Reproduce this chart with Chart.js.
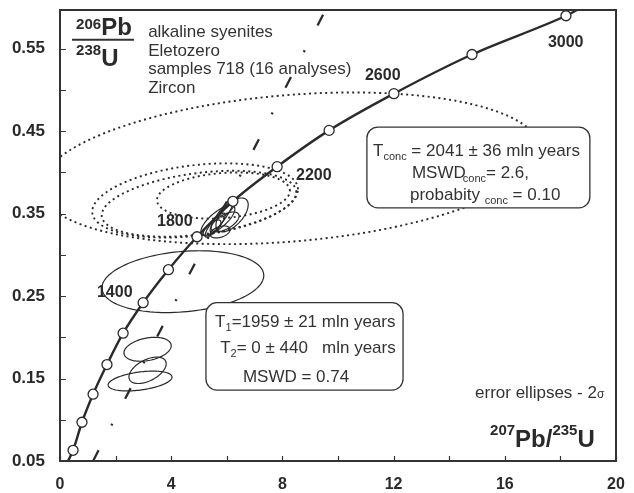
<!DOCTYPE html>
<html>
<head>
<meta charset="utf-8">
<script src="https://cdn.jsdelivr.net/npm/chart.js@4.4.1/dist/chart.umd.min.js"></script>
<style>
  html, body { margin: 0; padding: 0; background: #fff; }
  canvas { display: block; }
</style>
</head>
<body>
<canvas id="chart" width="634" height="493"></canvas>
<script>
// Concordia curve (null age = curve end, no marker)
const concordiaAges = [null, 400, 600, 800, 1000, 1200, 1400, 1600, 1800, 2000, 2200, 2400, 2600, 2800, 3000, null];
const concordiaX = [0.29, 0.47, 0.79, 1.19, 1.69, 2.27, 2.99, 3.90, 4.93, 6.22, 7.81, 9.68, 12.01, 14.82, 18.20, 18.60];
const concordiaY = [0.050, 0.063, 0.097, 0.131, 0.167, 0.205, 0.242, 0.282, 0.322, 0.365, 0.407, 0.451, 0.4955, 0.543, 0.590, 0.597];

// discordia (dash-dot line) end points
const discordiaX = [1.19, 9.55];
const discordiaY = [0.05, 0.597];

// error ellipses: centre, half-width (x), half-height (y), correlation, dotted?
const ellCX  = [8.27, 4.86, 5.00, 5.88, 4.42, 3.15, 3.15, 2.88, 6.19, 5.68, 5.83, 5.58, 5.94, 5.47, 6.04, 5.76];
const ellCY  = [0.405, 0.366, 0.362, 0.372, 0.2675, 0.1855, 0.160, 0.147, 0.3485, 0.342, 0.348, 0.336, 0.340, 0.3326, 0.357, 0.3278];
const ellSX  = [8.99, 3.70, 3.50, 2.39, 2.91, 0.85, 0.67, 1.15, 0.58, 0.61, 0.43, 0.36, 0.50, 0.32, 0.29, 0.36];
const ellSY  = [0.092, 0.045, 0.040, 0.028, 0.0375, 0.0145, 0.016, 0.012, 0.0205, 0.018, 0.0206, 0.0146, 0.012, 0.0097, 0.011, 0.0073];
const ellRho = [0.25, 0.30, 0.35, 0.20, 0.20, 0.30, 0.50, 0.40, 0.60, 0.75, 0.90, 0.85, 0.60, 0.70, 0.80, 0.40];
const ellDotted = [true, true, true, true, false, false, false, false, false, false, false, false, false, false, false, false];

// axis ticks
const xTicks = [0, 2, 4, 6, 8, 10, 12, 14, 16, 18, 20];
const xTickLabels = [0, 4, 8, 12, 16, 20];
const yTicks = [0.05, 0.10, 0.15, 0.20, 0.25, 0.30, 0.35, 0.40, 0.45, 0.50, 0.55];
const yTickLabels = [0.05, 0.15, 0.25, 0.35, 0.45, 0.55];

const FONT = "'Liberation Sans', Arial, sans-serif";
const INK = '#2a2a2a';
const TEXT = '#333';

// text annotations, anchored in data units: [x, y, parts, bold]
// parts: [text, size, dy]
const notes = [
    [0.58, 0.567, [['206', 15, -6], ['Pb', 24]], true],
    [0.58, 0.529, [['238', 15, -11], ['U', 24]], true],
    [3.17, 0.564, [['alkaline syenites', 17]]],
    [3.17, 0.541, [['Eletozero', 17]]],
    [3.17, 0.519, [['samples 718 (16 analyses)', 17]]],
    [3.17, 0.496, [['Zircon', 17]]],
    [1.33, 0.249, [['1400', 16]], true],
    [3.49, 0.335, [['1800', 16]], true],
    [8.49, 0.391, [['2200', 16]], true],
    [10.97, 0.512, [['2600', 16]], true],
    [17.55, 0.552, [['3000', 16]], true],
    [14.93, 0.126, [['error ellipses - 2', 17], ['σ', 12]]],
    [15.47, 0.067, [['207', 15, -12], ['Pb/', 24], ['235', 15, -12], ['U', 24]], true]
];

// result boxes: [x0, y0, x1, y1, lines]; lines: [x, y, parts]
const boxes = [
    [11.04, 0.455, 19.06, 0.357, [
        [11.26, 0.420, [['T', 17], ['conc', 11, 4], [' = 2041 ± 36 mln years', 17]]],
        [12.66, 0.393, [['MSWD', 17], ['conc', 11, 4, -3], ['= 2.6,', 17]]],
        [12.59, 0.367, [['probabity ', 17], ['conc', 11, 4], [' = 0.10', 17]]]
    ]],
    [5.25, 0.242, 12.34, 0.136, [
        [5.58, 0.2125, [['T', 17], ['1', 11, 4], ['=1959 ± 21 mln years', 17]]],
        [5.76, 0.181, [['T', 17], ['2', 11, 4], ['= 0 ± 440   mln years', 17]]],
        [6.58, 0.146, [['MSWD = 0.74', 17]]]
    ]]
];

function richText (ctx, x, y, parts, bold) {
    ctx.textBaseline = 'alphabetic';
    ctx.textAlign = 'left';
    for (const [t, size, dy = 0, dx = 0] of parts) {
        ctx.font = (bold ? 'bold ' : '') + size + 'px ' + FONT;
        ctx.fillText(t, x + dx, y + dy);
        x += dx + ctx.measureText(t).width;
    }
}

function ellipsePath (ctx, xs, ys, i) {
    const r = ellRho[i];
    const k = Math.sqrt(1 - r * r);
    ctx.beginPath();
    for (let s = 0; s <= 120; s++) {
        const t = s / 120 * 2 * Math.PI;
        const px = xs.getPixelForValue(ellCX[i] + ellSX[i] * Math.cos(t));
        const py = ys.getPixelForValue(ellCY[i] + ellSY[i] * (r * Math.cos(t) + k * Math.sin(t)));
        if (s) ctx.lineTo(px, py); else ctx.moveTo(px, py);
    }
    ctx.closePath();
}

const concordiaPlugin = {
    id: 'concordia',
    beforeDatasetsDraw (chart) {
        const { ctx, chartArea: a, scales: { x, y } } = chart;
        ctx.save();
        ctx.beginPath();
        ctx.rect(a.left, a.top, a.right - a.left, a.bottom - a.top);
        ctx.clip();
        ctx.strokeStyle = INK;
        ellCX.forEach(function (cx, i) {
            ellipsePath(ctx, x, y, i);
            if (ellDotted[i]) {
                ctx.setLineDash([2, 3.4]);
                ctx.lineWidth = 1.9;
            } else {
                ctx.setLineDash([]);
                ctx.lineWidth = 1.2;
            }
            ctx.stroke();
        });
        ctx.restore();
    },
    afterDatasetsDraw (chart) {
        const { ctx, chartArea: a, scales: { x, y } } = chart;
        ctx.save();

        // frame and inward ticks
        ctx.strokeStyle = '#333';
        ctx.lineWidth = 2;
        ctx.strokeRect(a.left, a.top, a.right - a.left, a.bottom - a.top);
        ctx.lineWidth = 1.2;
        ctx.beginPath();
        xTicks.forEach(function (v) {
            const px = Math.round(x.getPixelForValue(v)) + 0.5;
            ctx.moveTo(px, a.bottom);
            ctx.lineTo(px, a.bottom - 5);
        });
        yTicks.forEach(function (v) {
            const py = Math.round(y.getPixelForValue(v)) + 0.5;
            ctx.moveTo(a.left, py);
            ctx.lineTo(a.left + 6, py);
        });
        ctx.stroke();

        // fraction bar of the y title
        ctx.lineWidth = 2;
        ctx.beginPath();
        ctx.moveTo(x.getPixelForValue(0.43), y.getPixelForValue(0.561));
        ctx.lineTo(x.getPixelForValue(2.66), y.getPixelForValue(0.561));
        ctx.stroke();

        // result boxes
        boxes.forEach(function ([x0, y0, x1, y1, lines]) {
            const bx = x.getPixelForValue(x0);
            const by = y.getPixelForValue(y0);
            ctx.beginPath();
            ctx.roundRect(bx, by, x.getPixelForValue(x1) - bx, y.getPixelForValue(y1) - by, 11);
            ctx.fillStyle = '#fff';
            ctx.fill();
            ctx.lineWidth = 1.3;
            ctx.strokeStyle = '#333';
            ctx.stroke();
            ctx.fillStyle = TEXT;
            lines.forEach(function ([lx, ly, parts]) {
                richText(ctx, x.getPixelForValue(lx), y.getPixelForValue(ly), parts, false);
            });
        });

        // free text
        notes.forEach(function ([nx, ny, parts, bold]) {
            ctx.fillStyle = bold ? INK : TEXT;
            richText(ctx, x.getPixelForValue(nx), y.getPixelForValue(ny), parts, bold);
        });
        ctx.restore();
    }
};

const chart = new Chart(document.getElementById('chart'), {
    type: 'scatter',
    data: {
        datasets: [
            {
                label: 'discordia',
                data: discordiaX.map(function (v, i) { return { x: v, y: discordiaY[i] }; }),
                showLine: true,
                borderColor: INK,
                borderWidth: 2.3,
                borderDash: [12, 28, 2, 28],
                pointRadius: 0
            },
            {
                label: 'concordia',
                data: concordiaX.map(function (v, i) { return { x: v, y: concordiaY[i] }; }),
                showLine: true,
                cubicInterpolationMode: 'monotone',
                borderColor: INK,
                borderWidth: 2.4,
                pointRadius: concordiaAges.map(function (a) { return a ? 5 : 0; }),
                pointBackgroundColor: '#fff',
                pointBorderColor: INK,
                pointBorderWidth: 1.3
            }
        ]
    },
    options: {
        responsive: false,
        animation: false,
        layout: { padding: { top: 10, right: 18, left: 0, bottom: 0 } },
        plugins: { legend: { display: false }, tooltip: { enabled: false } },
        scales: {
            x: {
                type: 'linear',
                min: 0,
                max: 20,
                afterBuildTicks: function (s) { s.ticks = xTicks.map(function (v) { return { value: v }; }); },
                afterFit: function (s) {
                    s.height = 32;
                    s.paddingLeft = 0;
                    s.paddingRight = 0;
                },
                grid: { display: false, drawTicks: false },
                border: { display: false },
                ticks: {
                    autoSkip: false,
                    maxRotation: 0,
                    padding: 14,
                    color: INK,
                    font: { family: FONT, size: 16, weight: 'bold' },
                    callback: function (v) { return xTickLabels.includes(v) ? String(v) : ''; }
                }
            },
            y: {
                type: 'linear',
                min: 0.05,
                max: 0.597,
                afterBuildTicks: function (s) { s.ticks = yTicks.map(function (v) { return { value: v }; }); },
                afterFit: function (s) {
                    s.width = 60;
                    s.paddingTop = 0;
                    s.paddingBottom = 0;
                },
                grid: { display: false, drawTicks: false },
                border: { display: false },
                ticks: {
                    autoSkip: false,
                    padding: 15,
                    color: INK,
                    font: { family: FONT, size: 17, weight: 'bold' },
                    callback: function (v) { return yTickLabels.includes(v) ? v.toFixed(2) : ''; }
                }
            }
        }
    },
    plugins: [concordiaPlugin]
});
</script>
</body>
</html>
